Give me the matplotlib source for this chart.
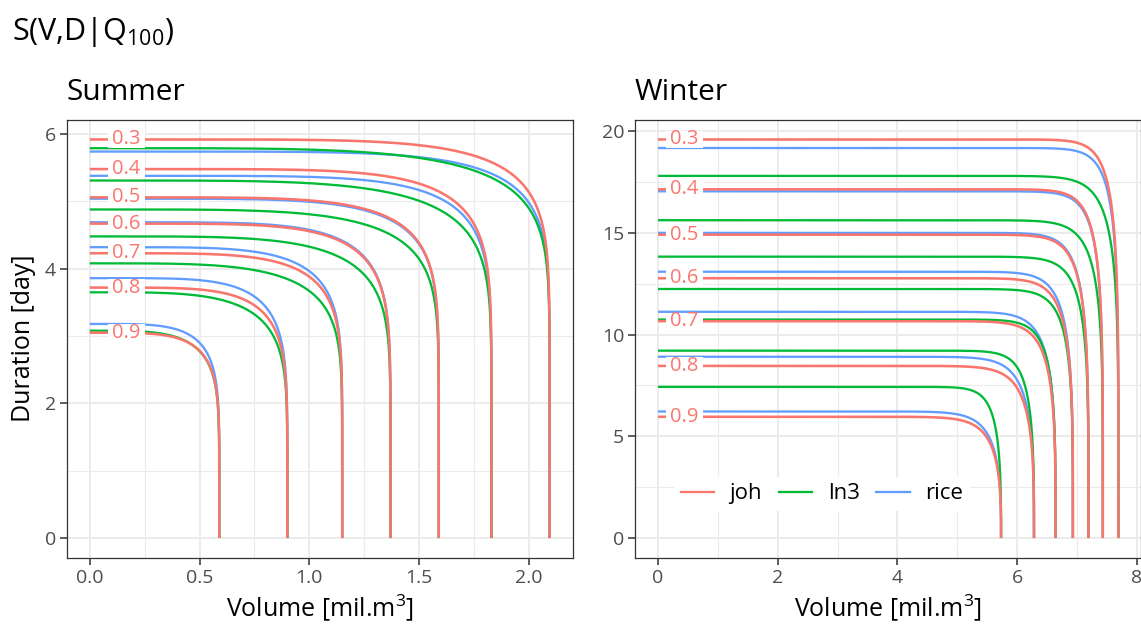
import numpy as np
import matplotlib
matplotlib.use('Agg')
import matplotlib.pyplot as plt
from matplotlib.lines import Line2D
from matplotlib.patches import Rectangle
from matplotlib.transforms import IdentityTransform

plt.rcParams['font.family'] = ['Open Sans', 'DejaVu Sans']
plt.rcParams['mathtext.fontset'] = 'custom'
plt.rcParams['mathtext.rm'] = 'Open Sans'
plt.rcParams['mathtext.default'] = 'regular'

# probability levels of the contours
levels = [0.3, 0.4, 0.5, 0.6, 0.7, 0.8, 0.9]
methods = ['joh', 'ln3', 'rice']
colors = {'joh': '#F8766D', 'ln3': '#00BA38', 'rice': '#619CFF'}

# summer: volume where the contour hits D=0, duration where it hits V=0
summer_vol = [2.095, 1.83, 1.59, 1.37, 1.15, 0.90, 0.59]
summer_dur_joh = [5.92, 5.48, 5.06, 4.67, 4.23, 3.72, 3.05]
summer_dur_ln3 = [5.79, 5.31, 4.88, 4.48, 4.08, 3.65, 3.08]
summer_dur_rice = [5.74, 5.38, 5.04, 4.69, 4.32, 3.86, 3.18]
# corner shape (exponents along volume / duration)
summer_ex_joh = [6, 6, 5.5, 5.5, 5, 5, 4.5]
summer_ex_ln3 = [4.5, 4.5, 4.5, 4.5, 4, 4, 4]
summer_ex_rice = [6, 6, 5.5, 5.5, 5, 5, 4.5]
summer_ey = [10, 9, 9, 8, 8, 7, 7]

# winter
winter_vol = [7.69, 7.43, 7.19, 6.93, 6.64, 6.28, 5.73]
winter_dur_joh = [19.59, 17.14, 14.91, 12.77, 10.66, 8.46, 5.96]
winter_dur_ln3 = [17.80, 15.62, 13.83, 12.24, 10.74, 9.21, 7.43]
winter_dur_rice = [19.17, 17.04, 15.00, 13.09, 11.12, 8.91, 6.22]
winter_ex_joh = [34, 32, 29, 27, 25, 22, 20]
winter_ex_ln3 = [27, 27, 28, 28, 29, 29, 30]
winter_ex_rice = [34, 32, 29, 27, 25, 22, 20]
winter_ey = [5, 4.7, 4.3, 4, 3.7, 3.3, 3]

LABEL_SIZE = 14.5


def contour_line(V, D, a, b):
    # level line x^a + y^b = 1 in scaled coordinates
    sa = 0.5 ** (1.0 / a)
    rb = 0.5 ** (1.0 / b)
    s = np.concatenate([np.linspace(0, 0.9 * sa, 100), sa - (sa * 0.1) * np.geomspace(1, 1e-6, 300)])
    y1 = D * (1 - s ** a) ** (1.0 / b)
    r = np.concatenate([rb - rb * 0.1 * np.geomspace(1e-6, 1, 300), np.linspace(0.9 * rb, 0, 100)])
    x2 = V * (1 - r ** b) ** (1.0 / a)
    return np.concatenate([V * s, x2]), np.concatenate([y1, D * r])


labels_drawn = []


def panel(ax, title, vol, durs, exs, ey, label_x, xlim, ylim, xmaj, xmin, ymaj, ymin, xfmt):
    for m in ['rice', 'ln3', 'joh']:
        for i in range(len(levels)):
            x, y = contour_line(vol[i], durs[m][i], exs[m][i], ey[i])
            ax.plot(x, y, color=colors[m], lw=1.85 if m == 'joh' else 1.65,
                    solid_capstyle='butt')
    for i, lev in enumerate(levels):
        t = ax.text(label_x, durs['joh'][i], f'{lev}', color=colors['joh'], fontsize=LABEL_SIZE,
                    ha='center', va='center', zorder=6)
        labels_drawn.append((ax, t, label_x, durs['joh'][i]))
    ax.set_xlim(xlim)
    ax.set_ylim(ylim)
    ax.set_xticks(xmaj)
    ax.set_xticklabels([xfmt.format(v) for v in xmaj])
    ax.set_xticks(xmin, minor=True)
    ax.set_yticks(ymaj)
    ax.set_yticks(ymin, minor=True)
    ax.grid(which='major', color='#EBEBEB', lw=1.4)
    ax.grid(which='minor', color='#EBEBEB', lw=0.8)
    ax.set_axisbelow(True)
    ax.tick_params(which='major', length=4.8, width=1.1, color='#333333',
                   labelcolor='#4D4D4D', labelsize=14, pad=3)
    ax.tick_params(which='minor', length=0)
    for sp in ax.spines.values():
        sp.set_color('#333333')
        sp.set_linewidth(0.9)
    ax.set_title(title, loc='left', fontsize=21.5, pad=14)
    ax.set_xlabel('Volume [mil.m$^3$]', fontsize=18, labelpad=4)


fig = plt.figure(figsize=(11.41, 6.28), dpi=100)
ax1 = fig.add_axes([0.0585, 0.1115, 0.4434, 0.6982])
ax2 = fig.add_axes([0.5565, 0.1115, 0.4439, 0.6982])

panel(ax1, 'Summer', summer_vol,
      {'joh': summer_dur_joh, 'ln3': summer_dur_ln3, 'rice': summer_dur_rice},
      {'joh': summer_ex_joh, 'ln3': summer_ex_ln3, 'rice': summer_ex_rice}, summer_ey,
      0.168, (-0.105, 2.2), (-0.296, 6.216),
      [0, 0.5, 1.0, 1.5, 2.0], [0.25, 0.75, 1.25, 1.75], [0, 2, 4, 6], [1, 3, 5], '{:.1f}')
panel(ax2, 'Winter', winter_vol,
      {'joh': winter_dur_joh, 'ln3': winter_dur_ln3, 'rice': winter_dur_rice},
      {'joh': winter_ex_joh, 'ln3': winter_ex_ln3, 'rice': winter_ex_rice}, winter_ey,
      0.44, (-0.385, 8.075), (-0.98, 20.57),
      [0, 2, 4, 6, 8], [1, 3, 5, 7], [0, 5, 10, 15, 20], [2.5, 7.5, 12.5, 17.5], '{:.0f}')

ax1.set_ylabel('Duration [day]', fontsize=18, labelpad=6)

handles = [Line2D([], [], color=colors[m], lw=1.65) for m in methods]
ax2.legend(handles, methods, loc='center', bbox_to_anchor=(0.369, 0.146), ncol=3,
           fontsize=16, handlelength=1.5, handletextpad=0.7, columnspacing=0.75,
           frameon=True, fancybox=False, edgecolor='none', facecolor='white', framealpha=1,
           borderpad=0.3)

fig.text(12 / 1141, 1 - 40 / 628, 'S(V,D|Q$_{100}$)', fontsize=22, va='baseline')

# white gap behind each contour label, only as tall as the digits
fig.canvas.draw()
renderer = fig.canvas.get_renderer()
digit_h = 0.74 * LABEL_SIZE * fig.dpi / 72
for ax, t, lx, ly in labels_drawn:
    bb = t.get_window_extent(renderer)
    cx, cy = ax.transData.transform((lx, ly))
    w = bb.width + 8
    ax.add_patch(Rectangle((cx - w / 2, cy - digit_h / 2 - 1), w, digit_h + 2,
                           transform=IdentityTransform(), fc='white', ec='none', zorder=5))

fig.savefig('out.png', dpi=100)
